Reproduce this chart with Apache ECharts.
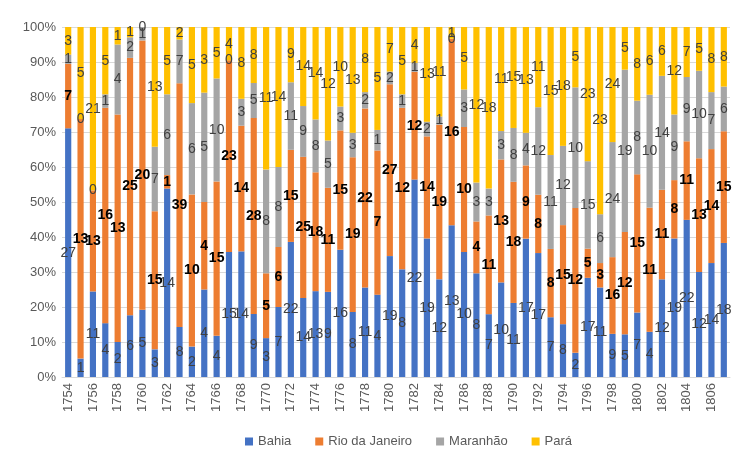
<!DOCTYPE html>
<html><head><meta charset="utf-8">
<script src="https://cdn.jsdelivr.net/npm/echarts@6/dist/echarts.min.js"></script>
<style>html,body{margin:0;padding:0;background:#fff}#c{width:738px;height:462px}</style>
</head><body><div id="c"></div>
<script>
const years = ["1754","1755","1756","1757","1758","1759","1760","1761","1762","1763","1764","1765","1766","1767","1768","1769","1770","1771","1772","1773","1774","1775","1776","1777","1778","1779","1780","1781","1782","1783","1784","1785","1786","1787","1788","1789","1790","1791","1792","1793","1794","1795","1796","1797","1798","1799","1800","1801","1802","1803","1804","1805","1806","1807"];
const bahia = [27,1,11,4,2,6,5,3,14,8,2,4,4,15,14,9,3,7,22,14,13,9,16,8,11,4,19,8,22,19,12,13,10,8,7,10,11,17,17,7,8,2,17,11,9,5,7,4,12,19,22,12,14,18];
const rio = [7,13,13,16,13,25,20,15,1,39,10,4,15,23,14,28,5,6,15,25,18,11,15,19,22,7,27,12,12,14,19,16,10,4,11,13,18,9,8,8,15,12,5,3,16,12,15,11,11,8,11,13,14,15];
const maranhao = [1,0,0,1,4,2,1,7,6,7,6,5,10,0,3,5,8,8,11,9,8,5,3,3,2,1,2,1,1,2,1,0,3,3,3,3,8,4,12,11,12,10,15,6,24,19,8,10,14,9,9,10,7,6];
const para = [3,5,21,5,1,1,0,13,5,2,5,3,5,4,8,8,11,14,9,14,14,12,10,13,8,5,7,5,4,13,11,1,5,12,18,11,15,13,11,15,18,5,23,23,24,5,8,6,6,12,7,5,8,8];
const yTicks = ["0%","10%","20%","30%","40%","50%","60%","70%","80%","90%","100%"];

const seriesDefs = [
  {name:"Bahia", data:bahia, color:"#4472C4", lc:"#404040", fw:"normal"},
  {name:"Rio da Janeiro", data:rio, color:"#ED7D31", lc:"#000000", fw:"bold"},
  {name:"Maranhão", data:maranhao, color:"#A5A5A5", lc:"#404040", fw:"normal"},
  {name:"Pará", data:para, color:"#FFC000", lc:"#404040", fw:"normal"}
];
const totals = years.map((_, i) => seriesDefs.reduce((s, d) => s + d.data[i], 0));

const chart = echarts.init(document.getElementById('c'), null, {renderer:'canvas'});
chart.setOption({
  animation:false,
  backgroundColor:'#fff',
  textStyle:{fontFamily:'Liberation Sans'},
  grid:{left:62, right:8, top:27, bottom:85, containLabel:false},
  legend:{
    left:240, top:430, itemWidth:8, itemHeight:8, itemGap:24, icon:'rect',
    textStyle:{fontSize:13, color:'#595959', fontFamily:'Liberation Sans'},
    data:seriesDefs.map(d=>d.name)
  },
  xAxis:{
    type:'category', data:years,
    axisLine:{lineStyle:{color:'#D9D9D9'}},
    axisTick:{show:false},
    axisLabel:{interval:1, rotate:90, fontSize:13, color:'#595959', margin:6, fontFamily:'Liberation Sans'}
  },
  yAxis:{
    type:'value', min:0, max:100, interval:10,
    axisLine:{show:false}, axisTick:{show:false},
    splitLine:{lineStyle:{color:'#D9D9D9'}},
    axisLabel:{fontSize:13, color:'#595959', margin:6, fontFamily:'Liberation Sans',
      formatter:(v)=>yTicks[Math.round(v/10)]}
  },
  series:seriesDefs.map(d=>({
    name:d.name, type:'bar', stack:'total', barCategoryGap:'50%',
    itemStyle:{color:d.color},
    data:d.data.map((v,i)=>v/totals[i]*100),
    label:{show:true, position:'inside', fontSize:14, color:d.lc, fontWeight:d.fw,
      fontFamily:'Liberation Sans',
      formatter:(p)=>String(d.data[p.dataIndex])}
  }))
});
</script></body></html>
